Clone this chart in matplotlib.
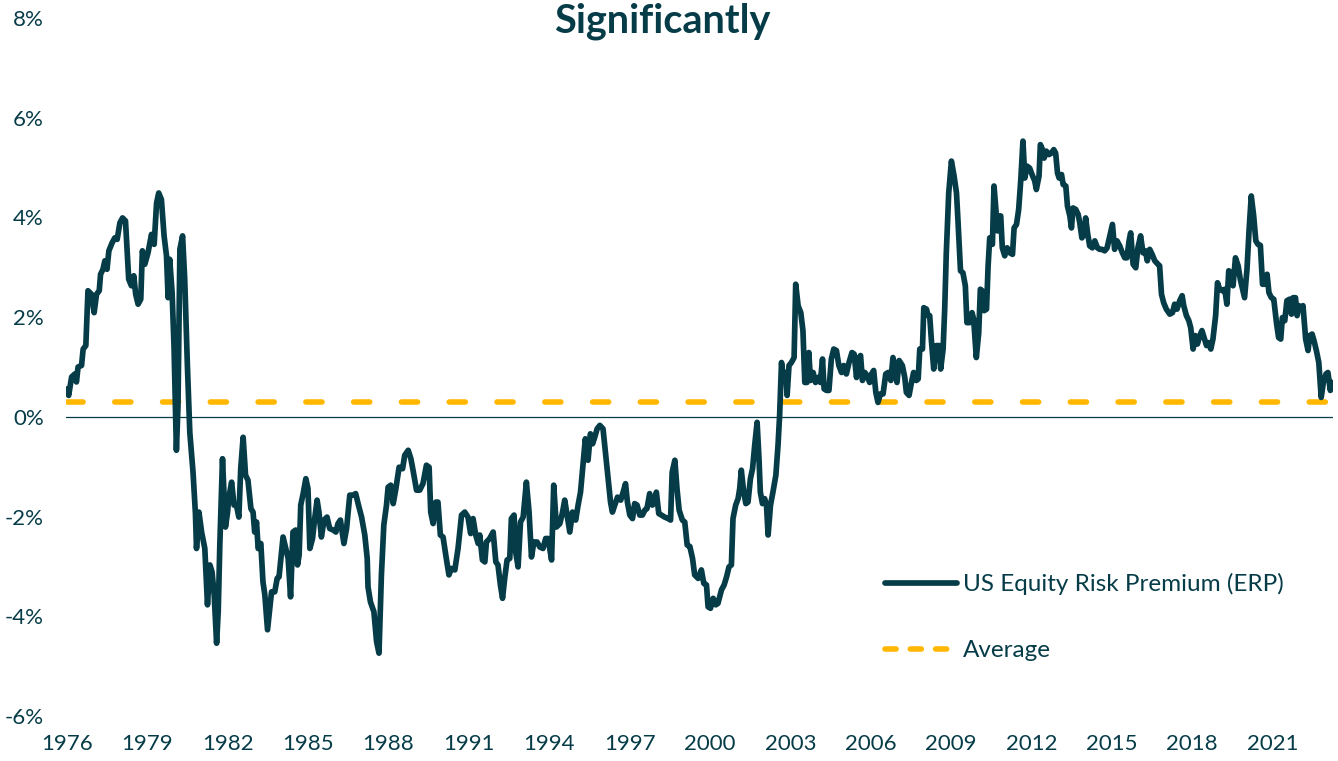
import matplotlib
matplotlib.use("Agg")
import matplotlib.pyplot as plt
from matplotlib.lines import Line2D

# ---------------- data ----------------
years = [
    1976.00, 1976.07, 1976.18, 1976.30, 1976.36, 1976.42, 1976.55, 1976.61, 1976.71, 1976.79,
    1976.92, 1977.02, 1977.11, 1977.21, 1977.26, 1977.35, 1977.42, 1977.50, 1977.57, 1977.69,
    1977.79, 1977.88, 1977.98, 1978.08, 1978.19, 1978.26, 1978.31, 1978.41, 1978.50, 1978.57,
    1978.66, 1978.76, 1978.82, 1978.91, 1979.03, 1979.16, 1979.26, 1979.35, 1979.43, 1979.53,
    1979.63, 1979.72, 1979.78, 1979.84, 1979.93, 1980.00, 1980.09, 1980.15, 1980.22, 1980.32,
    1980.40, 1980.50, 1980.59, 1980.71, 1980.80, 1980.84, 1980.93, 1981.03, 1981.15, 1981.25,
    1981.34, 1981.42, 1981.50, 1981.59, 1981.65, 1981.71, 1981.81, 1981.92, 1982.00, 1982.04,
    1982.15, 1982.24, 1982.33, 1982.42, 1982.49, 1982.58, 1982.67, 1982.76, 1982.87, 1982.95,
    1983.01, 1983.08, 1983.14, 1983.24, 1983.32, 1983.39, 1983.49, 1983.64, 1983.76, 1983.85,
    1983.92, 1984.07, 1984.20, 1984.26, 1984.35, 1984.44, 1984.54, 1984.61, 1984.67, 1984.73,
    1984.82, 1984.92, 1985.00, 1985.07, 1985.17, 1985.25, 1985.34, 1985.41, 1985.50, 1985.60,
    1985.71, 1985.81, 1985.94, 1986.04, 1986.12, 1986.21, 1986.34, 1986.44, 1986.56, 1986.68,
    1986.78, 1986.87, 1987.00, 1987.12, 1987.21, 1987.24, 1987.33, 1987.46, 1987.56, 1987.65,
    1987.74, 1987.83, 1987.93, 1987.99, 1988.09, 1988.18, 1988.28, 1988.40, 1988.53, 1988.61,
    1988.74, 1988.84, 1988.92, 1989.05, 1989.17, 1989.29, 1989.42, 1989.52, 1989.58, 1989.67,
    1989.77, 1989.85, 1989.94, 1990.04, 1990.17, 1990.26, 1990.35, 1990.48, 1990.60, 1990.73,
    1990.85, 1990.97, 1991.07, 1991.16, 1991.26, 1991.35, 1991.41, 1991.51, 1991.60, 1991.66,
    1991.78, 1991.91, 1992.01, 1992.09, 1992.18, 1992.26, 1992.34, 1992.43, 1992.53, 1992.59,
    1992.69, 1992.75, 1992.84, 1992.93, 1993.03, 1993.15, 1993.25, 1993.34, 1993.43, 1993.55,
    1993.65, 1993.77, 1993.87, 1993.96, 1994.09, 1994.17, 1994.27, 1994.40, 1994.50, 1994.58,
    1994.67, 1994.77, 1994.87, 1994.99, 1995.08, 1995.17, 1995.26, 1995.35, 1995.45, 1995.54,
    1995.62, 1995.70, 1995.79, 1995.89, 1996.01, 1996.11, 1996.20, 1996.29, 1996.36, 1996.45,
    1996.55, 1996.67, 1996.76, 1996.85, 1996.92, 1997.01, 1997.11, 1997.19, 1997.28, 1997.38,
    1997.48, 1997.57, 1997.65, 1997.75, 1997.85, 1997.94, 1998.00, 1998.09, 1998.19, 1998.31,
    1998.44, 1998.53, 1998.59, 1998.69, 1998.77, 1998.85, 1998.97, 1999.06, 1999.15, 1999.25,
    1999.35, 1999.43, 1999.56, 1999.68, 1999.77, 1999.87, 1999.93, 2000.02, 2000.12, 2000.22,
    2000.30, 2000.43, 2000.53, 2000.62, 2000.71, 2000.80, 2000.86, 2000.96, 2001.05, 2001.11,
    2001.17, 2001.26, 2001.34, 2001.42, 2001.51, 2001.59, 2001.67, 2001.76, 2001.83, 2001.88,
    2001.96, 2002.04, 2002.11, 2002.17, 2002.26, 2002.35, 2002.46, 2002.54, 2002.60, 2002.67,
    2002.75, 2002.83, 2002.88, 2002.95, 2003.04, 2003.14, 2003.20, 2003.29, 2003.39, 2003.47,
    2003.54, 2003.62, 2003.69, 2003.75, 2003.85, 2003.94, 2004.03, 2004.12, 2004.20, 2004.26,
    2004.35, 2004.44, 2004.53, 2004.62, 2004.72, 2004.81, 2004.91, 2004.99, 2005.09, 2005.19,
    2005.30, 2005.38, 2005.47, 2005.53, 2005.62, 2005.69, 2005.78, 2005.86, 2005.96, 2006.03,
    2006.11, 2006.19, 2006.27, 2006.36, 2006.46, 2006.56, 2006.65, 2006.75, 2006.83, 2006.92,
    2006.98, 2007.06, 2007.18, 2007.27, 2007.33, 2007.43, 2007.52, 2007.60, 2007.70, 2007.77,
    2007.83, 2007.93, 2007.98, 2008.08, 2008.14, 2008.20, 2008.26, 2008.35, 2008.45, 2008.55,
    2008.61, 2008.70, 2008.76, 2008.82, 2008.91, 2009.01, 2009.11, 2009.20, 2009.26, 2009.35,
    2009.44, 2009.53, 2009.59, 2009.69, 2009.78, 2009.84, 2009.94, 2010.03, 2010.09, 2010.16,
    2010.23, 2010.32, 2010.38, 2010.44, 2010.54, 2010.60, 2010.66, 2010.73, 2010.79, 2010.85,
    2010.91, 2011.00, 2011.09, 2011.19, 2011.29, 2011.35, 2011.44, 2011.52, 2011.60, 2011.68,
    2011.75, 2011.83, 2011.93, 2012.02, 2012.12, 2012.18, 2012.28, 2012.33, 2012.41, 2012.47,
    2012.55, 2012.65, 2012.74, 2012.83, 2012.90, 2012.97, 2013.03, 2013.12, 2013.18, 2013.28,
    2013.34, 2013.43, 2013.49, 2013.55, 2013.65, 2013.74, 2013.80, 2013.88, 2013.96, 2014.02,
    2014.09, 2014.17, 2014.27, 2014.36, 2014.46, 2014.54, 2014.63, 2014.73, 2014.82, 2014.92,
    2015.02, 2015.10, 2015.19, 2015.29, 2015.39, 2015.48, 2015.56, 2015.64, 2015.70, 2015.79,
    2015.89, 2015.97, 2016.07, 2016.16, 2016.25, 2016.32, 2016.41, 2016.50, 2016.60, 2016.72,
    2016.78, 2016.85, 2016.93, 2017.03, 2017.16, 2017.26, 2017.34, 2017.43, 2017.53, 2017.62,
    2017.68, 2017.78, 2017.87, 2017.94, 2018.03, 2018.11, 2018.19, 2018.28, 2018.36, 2018.44,
    2018.53, 2018.61, 2018.69, 2018.77, 2018.87, 2018.94, 2019.02, 2019.12, 2019.21, 2019.29,
    2019.36, 2019.43, 2019.52, 2019.61, 2019.71, 2019.79, 2019.89, 2019.95, 2020.04, 2020.12,
    2020.20, 2020.29, 2020.37, 2020.45, 2020.54, 2020.62, 2020.70, 2020.79, 2020.86, 2020.95,
    2021.04, 2021.14, 2021.22, 2021.30, 2021.36, 2021.45, 2021.53, 2021.63, 2021.70, 2021.76,
    2021.85, 2021.91, 2021.98, 2022.07, 2022.13, 2022.23, 2022.32, 2022.38, 2022.47, 2022.54,
    2022.63, 2022.72, 2022.81, 2022.89, 2022.99, 2023.06, 2023.15, 2023.21,
]
erp = [
    0.56, 0.43, 0.80, 0.86, 0.70, 1.00, 1.03, 1.36, 1.43, 2.53,
    2.46, 2.09, 2.46, 2.53, 2.86, 2.96, 3.13, 2.96, 3.33, 3.49,
    3.59, 3.56, 3.89, 3.99, 3.93, 3.23, 2.76, 2.63, 2.83, 2.46,
    2.26, 2.36, 3.33, 3.06, 3.29, 3.66, 3.46, 4.29, 4.49, 4.36,
    3.63, 3.23, 2.39, 3.16, 2.49, 1.43, -0.67, 0.23, 3.36, 3.63,
    2.76, 1.03, -0.31, -1.11, -1.94, -2.64, -1.91, -2.31, -2.64, -3.77,
    -2.97, -3.11, -3.57, -4.54, -3.91, -2.57, -0.84, -2.21, -1.91, -1.64,
    -1.31, -1.77, -1.77, -2.01, -1.04, -0.41, -1.17, -1.27, -1.84, -1.91,
    -2.31, -2.11, -2.64, -2.54, -3.31, -3.57, -4.27, -3.51, -3.51, -3.24,
    -3.21, -2.41, -2.71, -2.84, -3.61, -2.31, -2.27, -2.97, -2.77, -1.77,
    -1.54, -1.24, -1.44, -2.64, -2.44, -2.04, -1.67, -1.91, -2.41, -2.07,
    -2.01, -2.24, -2.27, -2.31, -2.14, -2.07, -2.54, -2.24, -1.57, -1.57,
    -1.54, -1.74, -2.01, -2.37, -2.84, -3.41, -3.71, -3.91, -4.51, -4.74,
    -3.17, -2.17, -1.77, -1.41, -1.37, -1.74, -1.44, -1.01, -1.04, -0.77,
    -0.67, -0.84, -1.07, -1.47, -1.47, -1.34, -0.97, -1.01, -1.91, -2.14,
    -1.71, -1.71, -2.37, -2.41, -2.87, -3.17, -3.04, -3.07, -2.64, -1.97,
    -1.91, -2.01, -2.34, -2.04, -2.37, -2.54, -2.37, -2.87, -2.91, -2.51,
    -2.44, -2.31, -2.91, -2.97, -3.37, -3.64, -3.24, -2.87, -2.84, -2.04,
    -1.97, -2.71, -3.01, -2.11, -2.01, -1.31, -1.91, -2.81, -2.51, -2.51,
    -2.61, -2.64, -2.44, -2.44, -2.87, -1.37, -2.21, -2.14, -1.91, -1.67,
    -1.97, -2.31, -1.91, -2.07, -1.77, -1.51, -0.97, -0.44, -0.87, -0.34,
    -0.54, -0.41, -0.24, -0.17, -0.24, -0.77, -1.24, -1.71, -1.91, -1.77,
    -1.61, -1.67, -1.51, -1.34, -1.71, -1.97, -2.04, -1.74, -1.77, -1.97,
    -1.97, -1.87, -1.84, -1.54, -1.77, -1.71, -1.51, -1.94, -1.97, -2.01,
    -2.04, -2.07, -1.11, -0.87, -1.44, -1.87, -2.07, -2.11, -2.57, -2.60,
    -2.84, -3.17, -3.24, -3.07, -3.34, -3.37, -3.81, -3.84, -3.64, -3.77,
    -3.74, -3.47, -3.37, -3.21, -3.01, -2.97, -2.04, -1.77, -1.64, -1.44,
    -1.07, -1.51, -1.74, -1.71, -1.24, -1.04, -0.57, -0.11, -0.84, -1.51,
    -1.74, -1.64, -1.77, -2.37, -1.77, -1.51, -1.17, -0.57, 0.03, 1.09,
    0.73, 0.89, 0.43, 1.03, 1.09, 1.19, 2.66, 2.23, 2.09, 1.73,
    0.69, 0.69, 1.29, 0.73, 0.89, 0.69, 0.79, 0.69, 1.16, 0.56,
    0.53, 0.53, 1.16, 1.36, 1.33, 1.03, 0.89, 1.03, 0.86, 1.09,
    1.29, 1.26, 0.79, 1.16, 1.23, 0.73, 0.89, 0.83, 0.69, 0.86,
    0.93, 0.49, 0.29, 0.46, 0.46, 0.86, 0.89, 0.73, 1.19, 0.89,
    0.69, 1.13, 1.03, 0.79, 0.49, 0.43, 0.69, 0.89, 0.73, 0.76,
    1.36, 1.36, 2.19, 2.16, 2.03, 2.03, 1.56, 0.96, 1.43, 1.43,
    0.96, 1.36, 2.16, 3.29, 4.49, 5.13, 4.83, 4.49, 3.89, 2.93,
    2.89, 2.63, 1.89, 1.89, 2.09, 1.96, 1.19, 1.69, 2.56, 2.53,
    2.13, 2.16, 3.03, 3.59, 3.46, 4.63, 4.23, 3.73, 4.03, 4.03,
    3.39, 3.23, 3.39, 3.29, 3.26, 3.79, 3.86, 4.16, 4.76, 5.53,
    4.79, 5.03, 4.99, 4.86, 4.73, 4.56, 4.83, 5.46, 5.36, 5.19,
    5.33, 5.26, 5.29, 5.36, 5.29, 4.89, 4.79, 4.86, 4.66, 4.63,
    4.23, 4.03, 3.79, 4.19, 4.16, 4.06, 3.89, 3.59, 3.66, 3.99,
    3.69, 3.43, 3.39, 3.53, 3.39, 3.36, 3.36, 3.33, 3.39, 3.63,
    3.86, 3.36, 3.53, 3.43, 3.29, 3.19, 3.19, 3.53, 3.69, 3.06,
    2.99, 3.39, 3.63, 3.29, 3.33, 3.13, 3.36, 3.26, 3.13, 3.06,
    3.03, 2.46, 2.29, 2.16, 2.06, 2.09, 2.26, 2.16, 2.33, 2.43,
    2.23, 2.03, 1.93, 1.79, 1.36, 1.63, 1.46, 1.63, 1.73, 1.59,
    1.43, 1.49, 1.36, 1.56, 2.03, 2.69, 2.56, 2.53, 2.56, 2.26,
    2.93, 2.89, 2.63, 3.19, 3.03, 2.76, 2.53, 2.39, 2.96, 3.76,
    4.43, 4.03, 3.53, 3.46, 3.44, 2.66, 2.66, 2.86, 2.49, 2.39,
    2.36, 1.89, 1.59, 1.56, 1.99, 1.93, 2.33, 2.36, 2.06, 2.39,
    2.39, 2.03, 2.23, 2.16, 2.23, 1.56, 1.33, 1.63, 1.66, 1.53,
    1.33, 1.09, 0.39, 0.69, 0.86, 0.89, 0.53, 0.69,
]
average = 0.30

x_ticks = [1976, 1979, 1982, 1985, 1988, 1991, 1994, 1997, 2000, 2003, 2006, 2009, 2012, 2015, 2018, 2021]
x_tick_labels = [str(v) for v in x_ticks]
y_ticks = [-6, -4, -2, 0, 2, 4, 6, 8]
y_tick_labels = ["-6%", "-4%", "-2%", "0%", "2%", "4%", "6%", "8%"]

title = "Significantly"
series_label = "US Equity Risk Premium (ERP)"
average_label = "Average"

# ---------------- style ----------------
TEAL = "#063c48"
GOLD = "#ffb700"
plt.rcParams["font.family"] = ["Lato", "DejaVu Sans"]

W, H = 1338, 761
fig = plt.figure(figsize=(W / 100, H / 100), dpi=100)
ax = fig.add_axes([66 / W, 1 - 716 / H, (1333 - 66) / W, (716 - 18) / H])

x_end = years[-1]
ax.plot(years, erp, color=TEAL, lw=4.1, solid_joinstyle="round", solid_capstyle="round", zorder=3)
ax.plot([years[0], x_end], [average, average], color=GOLD, lw=4.0,
        dashes=(2.9, 5.7), dash_capstyle="round", zorder=2)
ax.axhline(0, color=TEAL, lw=0.9, zorder=1)

ax.set_xlim(1976 - 0.03, 2023.25)
ax.set_ylim(-6, 8)
ax.set_xticks(x_ticks)
ax.set_xticklabels(x_tick_labels)
ax.set_yticks(y_ticks)
ax.set_yticklabels(y_tick_labels)
ax.tick_params(axis="both", length=0, labelsize=16, labelcolor=TEAL)
ax.tick_params(axis="x", pad=13)
ax.tick_params(axis="y", pad=16)
for s in ax.spines.values():
    s.set_visible(False)
ax.set_facecolor("none")

fig.text(662 / W, 1 - 33 / H, title, ha="center", va="baseline",
         fontsize=28.5, fontweight="bold", color=TEAL)

handles = [
    Line2D([], [], color=TEAL, lw=4.1, solid_capstyle="round"),
    Line2D([], [], color=GOLD, lw=4.0, dashes=(2.0, 2.55), dash_capstyle="round"),
]
leg = fig.legend(handles, [series_label, average_label], loc="center left",
                 bbox_to_anchor=(885 / W, 1 - 617 / H), bbox_transform=fig.transFigure,
                 frameon=False, fontsize=17.5, handlelength=2.95, handletextpad=0.25,
                 labelspacing=1.85, borderpad=0, borderaxespad=0)
for t in leg.get_texts():
    t.set_color(TEAL)

fig.savefig("out.png", dpi=100)
